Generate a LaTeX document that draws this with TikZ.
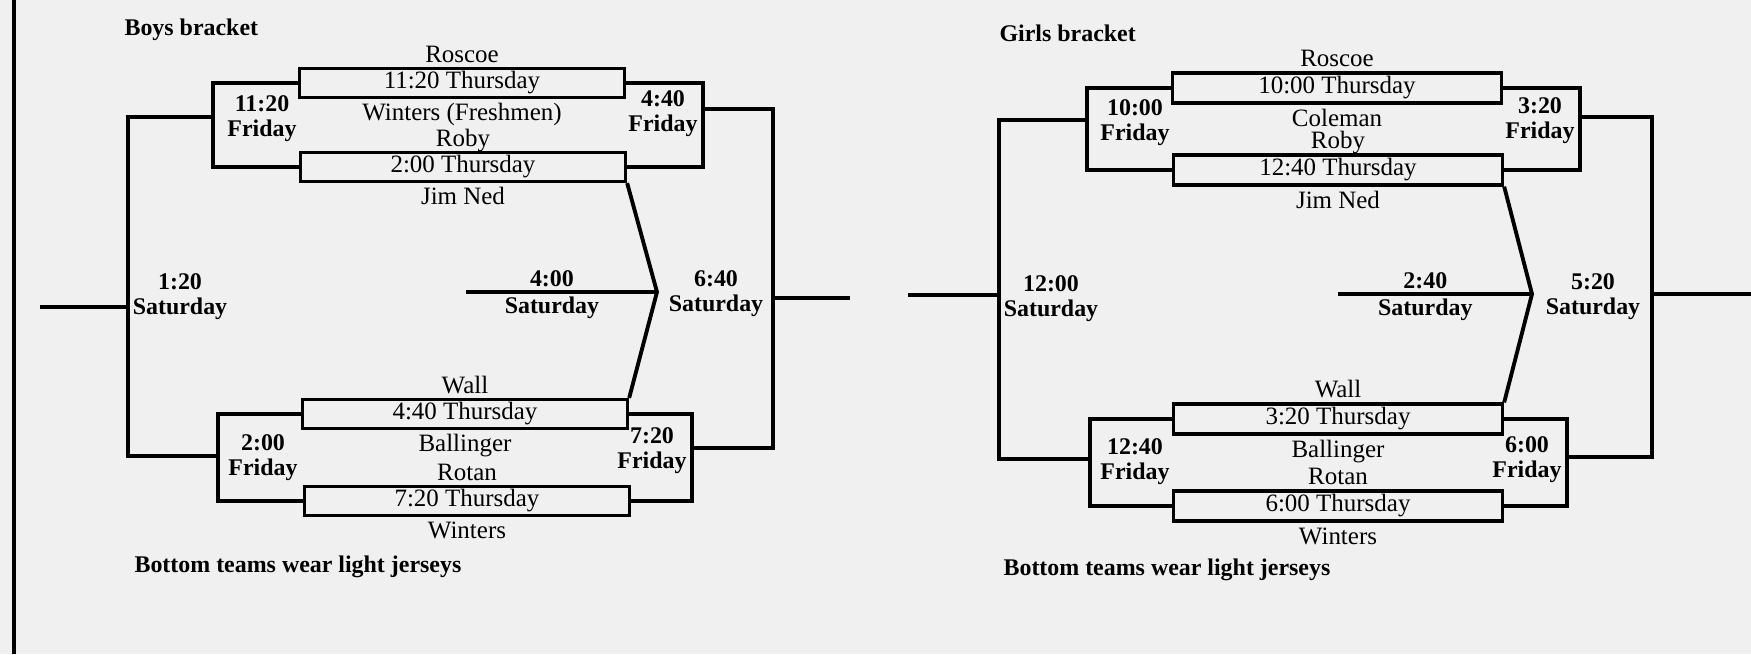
\documentclass[tikz,border=0pt]{standalone}
\usepackage{fontspec}
\setmainfont{Liberation Serif}

\begin{document}
\begin{tikzpicture}[x=0.01cm, y=-0.01cm, line width=0.9pt,
    game/.style={draw, minimum width=3.25cm, minimum height=0.29cm, inner sep=0pt, font=\fontsize{7.1}{8}\selectfont},
    gbox/.style={game, minimum width=3.29cm, minimum height=0.3cm},
    team/.style={inner sep=0pt, anchor=base, font=\fontsize{7.1}{8}\selectfont},
    day/.style={align=center, inner sep=1pt, font=\bfseries\fontsize{6.8}{7.1}\selectfont},
    heading/.style={anchor=west, inner sep=0pt, font=\bfseries\fontsize{6.8}{8}\selectfont}]

        \useasboundingbox (0,0) rectangle (1751,654);
        \fill[black!6] (0,0) rectangle (1751,654);
        \draw (14,0) -- (14,654);

        \node[heading] (btitle) at (123,30) {Boys bracket};
        \node[heading] (bnote) at (133,567) {Bottom teams wear light jerseys};

        \node[game] (bg1) at (462,83) {11:20 Thursday};
        \node[game] (bg2) at (463,167) {2:00 Thursday};
        \node[game] (bg3) at (465,414) {4:40 Thursday};
        \node[game] (bg4) at (467,501) {7:20 Thursday};

        \node[team] (bt1) at ([yshift=1.3pt]bg1.north) {Roscoe};
        \node[team] (bt2) at ([yshift=-6.2pt]bg1.south) {Winters (Freshmen)};
        \node[team] (bt3) at ([yshift=1.3pt]bg2.north) {Roby};
        \node[team] (bt4) at ([yshift=-6.2pt]bg2.south) {Jim Ned};
        \node[team] (bt5) at ([yshift=1.3pt]bg3.north) {Wall};
        \node[team] (bt6) at ([yshift=-6.2pt]bg3.south) {Ballinger};
        \node[team] (bt7) at ([yshift=1.3pt]bg4.north) {Rotan};
        \node[team] (bt8) at ([yshift=-6.2pt]bg4.south) {Winters};

        \coordinate (bl1) at (213,117);
        \coordinate (bl2) at (218,456);
        \coordinate (bsat) at (128,307);
        \coordinate (bin) at (40,307);
        \coordinate (br1) at (703,109);
        \coordinate (br2) at (692,448);
        \coordinate (bfin) at (773,298);
        \coordinate (bout) at (850,298);
        \coordinate (bv) at (657,292);
        \coordinate (bcons) at (466,292);

        \draw (bg1.west) -| (bl1) |- (bg2.west);
        \draw (bg3.west) -| (bl2) |- (bg4.west);
        \draw (bl1) -| (bsat) |- (bl2);
        \draw (bin) -- (bsat);
        \draw (bg1.east) -| (br1) |- (bg2.east);
        \draw (bg3.east) -| (br2) |- (bg4.east);
        \draw (br1) -| (bfin) |- (br2);
        \draw (bfin) -- (bout);
        \draw[line width=1.1pt] (bg2.south east) -- (bv) -- (bg3.north east);
        \draw (bcons) -- node[day, above, pos=0.45] (bc1) {4:00} node[day, below, pos=0.45] (bc2) {Saturday} (bv);

        \node[day] (bf1) at (262,119) {11:20\\Friday};
        \node[day] (bf2) at (263,458) {2:00\\Friday};
        \node[day] (bf3) at (663,114) {4:40\\Friday};
        \node[day] (bf4) at (652,451) {7:20\\Friday};
        \node[day] (bs1) at (180,297) {1:20\\Saturday};
        \node[day] (bs2) at (716,294) {6:40\\Saturday};

        \node[heading] (gtitle) at (998,33) {Girls bracket};
        \node[heading] (gnote) at (1002,570) {Bottom teams wear light jerseys};

        \node[gbox] (gg1) at (1337,88) {10:00 Thursday};
        \node[gbox] (gg2) at (1338,170) {12:40 Thursday};
        \node[gbox] (gg3) at (1338,419) {3:20 Thursday};
        \node[gbox] (gg4) at (1338,506) {6:00 Thursday};

        \node[team] (gt1) at ([yshift=1.3pt]gg1.north) {Roscoe};
        \node[team] (gt2) at ([yshift=-6.2pt]gg1.south) {Coleman};
        \node[team] (gt3) at ([yshift=1.3pt]gg2.north) {Roby};
        \node[team] (gt4) at ([yshift=-6.2pt]gg2.south) {Jim Ned};
        \node[team] (gt5) at ([yshift=1.3pt]gg3.north) {Wall};
        \node[team] (gt6) at ([yshift=-6.2pt]gg3.south) {Ballinger};
        \node[team] (gt7) at ([yshift=1.3pt]gg4.north) {Rotan};
        \node[team] (gt8) at ([yshift=-6.2pt]gg4.south) {Winters};

        \coordinate (gl1) at (1087,120);
        \coordinate (gl2) at (1090,459);
        \coordinate (gsat) at (999,295);
        \coordinate (gin) at (908,295);
        \coordinate (gr1) at (1580,117);
        \coordinate (gr2) at (1567,457);
        \coordinate (gfin) at (1652,294);
        \coordinate (gout) at (1751,294);
        \coordinate (gv) at (1532,294);
        \coordinate (gcons) at (1338,294);

        \draw (gg1.west) -| (gl1) |- (gg2.west);
        \draw (gg3.west) -| (gl2) |- (gg4.west);
        \draw (gl1) -| (gsat) |- (gl2);
        \draw (gin) -- (gsat);
        \draw (gg1.east) -| (gr1) |- (gg2.east);
        \draw (gg3.east) -| (gr2) |- (gg4.east);
        \draw (gr1) -| (gfin) |- (gr2);
        \draw (gfin) -- (gout);
        \draw[line width=1.1pt] (gg2.south east) -- (gv) -- (gg3.north east);
        \draw (gcons) -- node[day, above, pos=0.45] (gc1) {2:40} node[day, below, pos=0.45] (gc2) {Saturday} (gv);

        \node[day] (gf1) at (1135,123) {10:00\\Friday};
        \node[day] (gf2) at (1135,462) {12:40\\Friday};
        \node[day] (gf3) at (1540,121) {3:20\\Friday};
        \node[day] (gf4) at (1527,460) {6:00\\Friday};
        \node[day] (gs1) at (1051,299) {12:00\\Saturday};
        \node[day] (gs2) at (1593,297) {5:20\\Saturday};

    \end{tikzpicture}
\end{document}
